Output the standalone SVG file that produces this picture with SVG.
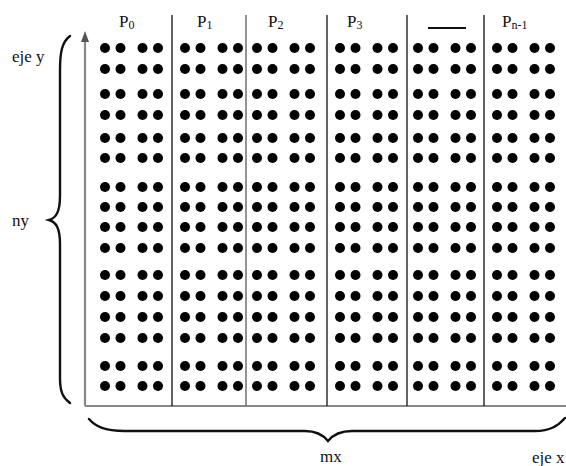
<svg xmlns="http://www.w3.org/2000/svg" xmlns:xlink="http://www.w3.org/1999/xlink" width="566" height="466" viewBox="0 0 566 466">
<style>
text{font-family:"Liberation Serif","Times New Roman",serif;font-size:17px;fill:#111}
.sub{font-size:12px}
.sep{stroke:#222;stroke-width:1.4}
.axis{stroke:#888;stroke-width:2.2;fill:none}
.brace{stroke:#111;stroke-width:2.4;fill:none;stroke-linecap:round}
.d{fill:#000}
</style>
<defs>
<g id="quad">
<circle class="d" cx="0" cy="0" r="5"/><circle class="d" cx="15.5" cy="0" r="5"/>
<circle class="d" cx="37.5" cy="0" r="5"/><circle class="d" cx="53" cy="0" r="5"/>
</g>
<g id="col">
<use xlink:href="#quad" y="48"/><use xlink:href="#quad" y="69"/>
<use xlink:href="#quad" y="94"/><use xlink:href="#quad" y="115"/>
<use xlink:href="#quad" y="138"/><use xlink:href="#quad" y="158"/>
<use xlink:href="#quad" y="187"/><use xlink:href="#quad" y="207"/>
<use xlink:href="#quad" y="227"/><use xlink:href="#quad" y="248"/>
<use xlink:href="#quad" y="275"/><use xlink:href="#quad" y="296"/>
<use xlink:href="#quad" y="317"/><use xlink:href="#quad" y="338"/>
<use xlink:href="#quad" y="366"/><use xlink:href="#quad" y="386"/>
</g>
</defs>
<rect width="566" height="466" fill="#fff"/>

<g id="connectors">
<path class="axis" d="M85,406 L85,40"/>
<polygon points="85,31 81,42 89,42" fill="#555"/>
<path class="axis" d="M85,406 L566,406"/>
<line class="sep" x1="172" y1="15" x2="172" y2="406"/>
<line class="sep" x1="246" y1="15" x2="246" y2="406" style="stroke:#666"/>
<line class="sep" x1="327" y1="15" x2="327" y2="406"/>
<line class="sep" x1="407" y1="15" x2="407" y2="406"/>
<line class="sep" x1="484" y1="15" x2="484" y2="406"/>
</g>

<g id="P0"><text x="119" y="27">P<tspan class="sub" dy="2">0</tspan></text><use xlink:href="#col" x="105"/></g>
<g id="P1"><text x="197" y="27">P<tspan class="sub" dy="2">1</tspan></text><use xlink:href="#col" x="185"/></g>
<g id="P2"><text x="268" y="27">P<tspan class="sub" dy="2">2</tspan></text><use xlink:href="#col" x="257"/></g>
<g id="P3"><text x="347" y="27">P<tspan class="sub" dy="2">3</tspan></text><use xlink:href="#col" x="340"/></g>
<g id="Pdots"><line x1="428" y1="28" x2="466" y2="28" stroke="#111" stroke-width="2.2"/><use xlink:href="#col" x="418"/></g>
<g id="Pn1"><text x="502" y="27">P<tspan class="sub" dy="2">n-1</tspan></text><use xlink:href="#col" x="497"/></g>

<g id="brace-y">
<path class="brace" d="M70,36 C62,42 60,52 60,70 L60,196 C60,212 56,218 49,220 C56,222 60,228 60,244 L60,378 C60,392 63,398 70,403"/>
<text x="12" y="62">eje y</text>
<text x="12" y="226">ny</text>
</g>
<g id="brace-x">
<path class="brace" d="M89,419 C95,426 104,431 125,431 L305,431 C318,431 324,436 328,441 C332,436 338,431 352,431 L535,431 C550,431 558,426 565,418"/>
<text x="320" y="462">mx</text>
<text x="532" y="463">eje x</text>
</g>
</svg>
